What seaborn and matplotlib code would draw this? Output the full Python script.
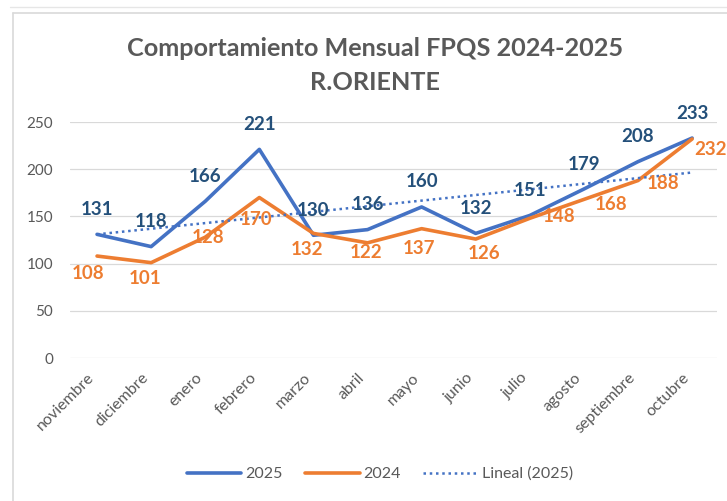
import matplotlib
matplotlib.use("Agg")
import matplotlib.pyplot as plt
from matplotlib.lines import Line2D
import seaborn as sns
import numpy as np
import pandas as pd

# data
months = ["noviembre", "diciembre", "enero", "febrero", "marzo", "abril",
          "mayo", "junio", "julio", "agosto", "septiembre", "octubre"]
v2025 = [131, 118, 166, 221, 130, 136, 160, 132, 151, 179, 208, 233]
v2024 = [108, 101, 128, 170, 132, 122, 137, 126, 148, 168, 188, 232]

# label offsets in pixels (labels were hand placed in the original chart)
off2024 = [(-9, 17), (-6, 16), (3, 0), (-3, 22), (-6, 16), (-2, 10),
           (-3, 20), (8, 14), (29, -2), (27, 5), (25, 3), (18, 11)]

BLUE = "#4472C4"
ORANGE = "#ED7D31"
BLUE_TXT = "#24507A"
GRAY = "#595959"

sns.set_style("white")
plt.rcParams["font.family"] = ["Lato", "DejaVu Sans"]

df = pd.DataFrame({"x": range(len(months)), "mes": months, "2025": v2025, "2024": v2024})
coef = np.polyfit(df["x"], df["2025"], 1)
df["trend"] = np.polyval(coef, df["x"])

fig = plt.figure(figsize=(7.27, 5.01), dpi=100)
W, H = 727, 501
ax = fig.add_axes([70 / W, 1 - 358 / H, 647 / W, 236 / H])

sns.lineplot(data=df, x="x", y="2025", ax=ax, color=BLUE, lw=2.6, label="2025", zorder=3)
sns.lineplot(data=df, x="x", y="2024", ax=ax, color=ORANGE, lw=2.6, label="2024", zorder=3)
sns.lineplot(data=df, x="x", y="trend", ax=ax, color=BLUE, lw=1.8,
             linestyle=(0, (1, 1.5)), label="Lineal (2025)", zorder=4)

# data labels
for i, v in enumerate(v2025):
    ax.annotate(str(v), (i, v), xytext=(0, 25), textcoords="offset pixels",
                ha="center", va="center", fontsize=13.5, fontweight="bold",
                color=BLUE_TXT, annotation_clip=False, zorder=5)
for i, v in enumerate(v2024):
    ax.annotate(str(v), (i, v), xytext=(off2024[i][0], -off2024[i][1]),
                textcoords="offset pixels", ha="center", va="center",
                fontsize=13.5, fontweight="bold", color=ORANGE,
                annotation_clip=False, zorder=5)

ax.set_xlim(-0.5, 11.46)
ax.set_ylim(0, 250)
ax.set_yticks([0, 50, 100, 150, 200, 250])
ax.set_xticks(range(len(months)))
ax.set_xticklabels(months, rotation=45, ha="right", fontsize=11.5, color=GRAY)
ax.tick_params(axis="y", labelsize=11, labelcolor=GRAY, pad=12, length=0)
ax.tick_params(axis="x", pad=9, length=0)
ax.grid(axis="y", color="#D9D9D9", lw=0.9)
ax.set_axisbelow(True)
for s in ax.spines.values():
    s.set_visible(False)
ax.set_xlabel("")
ax.set_ylabel("")

# title
fig.text(375 / W, 1 - 48 / H, "Comportamiento Mensual FPQS 2024-2025", ha="center",
         va="center", fontsize=18.2, fontweight="bold", color=GRAY)
fig.text(375 / W, 1 - 82 / H, "R.ORIENTE", ha="center", va="center",
         fontsize=18.2, fontweight="bold", color=GRAY)

# legend
handles, labels = ax.get_legend_handles_labels()
ax.legend_.remove()
fig.legend(handles, labels, loc="center", bbox_to_anchor=(380 / W, 1 - 474 / H),
           ncol=3, frameon=False, fontsize=11.5, handlelength=3.4,
           handletextpad=0.25, columnspacing=1.4, labelcolor=GRAY)

# chart frame (as in the spreadsheet screenshot)
fig.add_artist(Line2D([13 / W, 13 / W], [0, 1 - 13 / H], color="#D9D9D9", lw=1.2,
                      transform=fig.transFigure))
fig.add_artist(Line2D([13 / W, 1], [1 - 13 / H, 1 - 13 / H], color="#D9D9D9", lw=1.2,
                      transform=fig.transFigure))
fig.add_artist(Line2D([10 / W, 1], [1 - 7 / H, 1 - 7 / H], color="#E6E6E6", lw=1,
                      transform=fig.transFigure))

fig.savefig("out.png", dpi=100)
